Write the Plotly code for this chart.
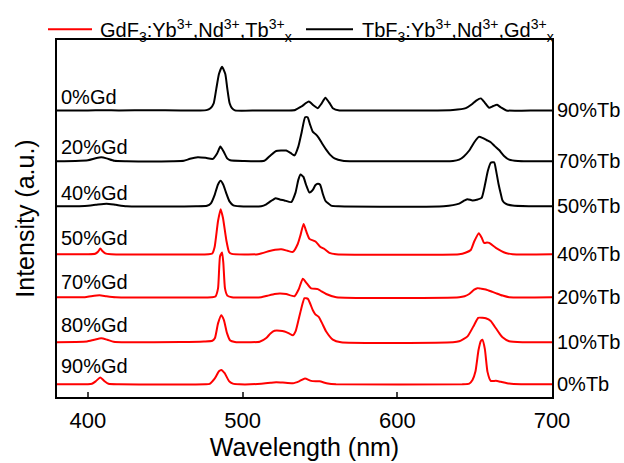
import plotly.graph_objects as go

# ---------------- data ----------------
# wavelength (nm) / relative intensity points for each spectrum, plus stacking offset
wl_gd0 = [380, 400, 410, 420, 440, 460, 472, 476.6, 479.2, 481.3, 483.0, 484.7, 486.7, 488.8, 490.1, 491.6, 493.1, 495,
          510, 530, 534, 538, 542.8, 546, 548.6, 551, 553.5, 556, 558.3, 562.6, 580, 620, 636, 644.3, 648, 651, 654,
          656.5, 659.3, 662, 664.5, 667, 670.5, 690, 700]
int_gd0 = [0, 0, 0.3, 0, 0.3, 0, 0, 0.3, 2.3, 7.3, 22.3, 37.3, 44.7, 37.3, 22.3, 7.3, 2.3, 0,
           0, 0, 0.5, 4, 9, 5, 2.3, 7, 13, 8, 2.3, 0, 0, 0, 0.5, 2.3, 6, 10, 12.3,
           8, 2.8, 4.5, 5.7, 3, 0, 0, 0]

wl_gd20 = [380, 392, 400, 405, 408.6, 412, 417, 425, 440, 455, 462, 466, 471, 476, 480.8, 483.5, 485.6, 487.7, 490,
           492, 500, 514, 518, 521.7, 525, 528.2, 531, 533.5, 536, 538.2, 540.4, 542, 543.5, 545.4, 547, 549.2, 551.5,
           554, 557, 559.4, 564.7, 572, 600, 636, 640, 643, 646.5, 650, 652.7, 655, 658, 660.4, 663, 665.8, 669,
           672.3, 678, 700]
int_gd20 = [0, 0.3, 1, 3, 4, 3, 0.5, 0, -0.3, 0, 0.5, 2.5, 4, 3.5, 2.5, 8, 15, 10, 3,
            1, 0.3, 0.5, 6, 10.5, 11, 11, 8.5, 6, 15, 30, 45, 45, 38, 30, 28, 24, 18,
            12, 6, 3, 0.5, 0, 0, 0.3, 1.7, 5, 11, 20, 25, 24, 21.5, 19.5, 15.5, 11.5, 5.5,
            1.7, 0.3, 0]

wl_gd40 = [380, 398, 405, 412, 418, 425, 470, 477, 479.5, 482, 484, 485.8, 487.5, 489.5, 491.5, 494, 498, 512,
           515.3, 518, 521.3, 524, 527, 531.4, 534.2, 536, 537.4, 539.3, 541, 543.2, 545.5, 547, 548.6, 550.1, 552,
           553.5, 557.2, 562, 630, 640, 643.5, 645.4, 648.6, 652, 654.5, 656.8, 658.5, 660.4, 662.6, 663.8, 665.4,
           667, 668, 670, 674.5, 685, 700]
int_gd40 = [0, 0.3, 1.5, 2.7, 1.5, 0, 0, 0.5, 3, 12, 22, 26, 22, 13, 5, 1, 0, 0,
            2, 5, 8.3, 7, 6, 4.3, 14, 27, 32.5, 30, 22, 14, 17, 21.5, 23, 22, 12,
            5.7, 0.7, 0, 0, 2.7, 6, 7.3, 6, 7, 8.5, 23, 36, 44.5, 45, 37, 23,
            12, 6, 2.7, 0.7, 0, 0]

wl_gd50 = [380, 400, 404.7, 406.5, 408, 409.5, 411.2, 415, 478, 480.4, 481.9, 484.1, 485.8, 487.3, 489.5, 491.2, 493,
           510, 517.4, 521, 525, 529, 532.5, 535.7, 537.5, 539.4, 541, 543.2, 547.1, 550.3, 552.9, 556.1, 560.4,
           640, 644, 647.5, 649.7, 652.7, 654.5, 656.1, 658, 659.4, 663.7, 670.1, 674.5, 700]
int_gd50 = [0, 0, 0.5, 2.5, 5.7, 3, 0.8, 0, 0, 0.8, 7.3, 34, 46, 37, 14, 2.3, 0.3,
            0, 3.3, 4.5, 5, 3.5, 2.3, 10.7, 20, 31, 24, 15.7, 13, 7.3, 5.3, 1.3, 0,
            0, 1.5, 4.3, 13, 21.5, 17, 11.5, 12, 11.5, 6.5, 1.3, 0, 0]

wl_gd70 = [380, 398, 402, 407.5, 412, 418, 480, 482.4, 484.1, 485.4, 486.7, 487.5, 488.6, 490.1, 493, 512, 516,
           520.6, 524, 528.2, 533.5, 536.3, 538.9, 541.1, 544.3, 548.6, 551, 554, 560.5, 640, 643.5, 646.5, 649.7,
           651.8, 654, 657.2, 661.5, 664, 668, 672.3, 700]
int_gd70 = [0, 0, 1, 2, 1, 0, 0, 0.7, 9, 42, 45.7, 35.7, 9, 1.7, 0, 0, 1.5,
            3.3, 3.8, 3.3, 1, 8.3, 19, 15, 9, 8.3, 6, 3.3, 0, 0, 1, 3.3, 7.7,
            9.3, 8.8, 8, 5.5, 4, 1.7, 0, 0]

wl_gd80 = [380, 392, 399.4, 404, 408.6, 412.5, 416.6, 425, 460, 475, 480.4, 482.1, 484.1, 486.2, 487.9, 489.9, 492,
           495, 505, 511, 515.3, 518, 520.6, 524, 527.1, 530, 532.5, 534.2, 536, 537.9, 540, 542.2, 545.4, 547,
           549.2, 551.5, 554, 558.3, 563.6, 636, 640, 645.4, 649.7, 652.3, 655, 657.2, 660.4, 663.7, 666, 668,
           672.3, 681, 700]
int_gd80 = [0, 0.3, 0.8, 2.5, 4, 2.5, 0.5, 0, 0.2, 0.8, 1.5, 4.3, 19.3, 27.7, 22.7, 9.3, 1.7,
            0.3, 0, 0.5, 4.3, 9, 11.7, 11.8, 11, 9, 7, 11, 22, 34.3, 45, 44.3, 32.7, 28.5,
            26, 19, 11, 2.7, 0, 0, 1, 6, 17.7, 25, 25, 24.5, 21.7, 14.3, 9, 5,
            1, 0, 0]

wl_gd90 = [380, 400, 402.6, 405, 408, 410.5, 413.3, 420, 476, 478.7, 481.9, 484.7, 486.2, 488.4, 491.2, 493.7, 498,
           512, 518, 521.7, 526, 532.5, 536.8, 540.3, 544.3, 549.7, 555.1, 560.4, 642, 646.5, 648.6, 650.5, 652.5,
           654, 655, 656.6, 658.3, 660.4, 663.7, 667, 672.3, 680, 700]
int_gd90 = [0, 0, 0.5, 3, 7, 3.5, 0.5, 0, 0, 0.5, 5.7, 13.3, 14.7, 11.3, 3.3, 0.7, 0,
            0.5, 1.5, 2, 1.7, 1, 3.3, 6, 3.5, 3, 0.7, 0, 0, 0.7, 4.3, 13, 35,
            44.3, 45.5, 36, 12.7, 3.5, 3.5, 2.5, 0.7, 0, 0]

gd_labels = ["0%Gd", "20%Gd", "40%Gd", "50%Gd", "70%Gd", "80%Gd", "90%Gd"]
tb_labels = ["90%Tb", "70%Tb", "50%Tb", "40%Tb", "20%Tb", "10%Tb", "0%Tb"]
offsets = [293, 241, 195, 146, 102, 56, 13]
series_host = ["TbF", "TbF", "TbF", "GdF", "GdF", "GdF", "GdF"]

x_ticks = [400, 500, 600, 700]

wls = [wl_gd0, wl_gd20, wl_gd40, wl_gd50, wl_gd70, wl_gd80, wl_gd90]
ints = [int_gd0, int_gd20, int_gd40, int_gd50, int_gd70, int_gd80, int_gd90]

legend_names = {
    "GdF": "GdF<sub>3</sub>:Yb<sup>3+</sup>,Nd<sup>3+</sup>,Tb<sup>3+</sup><sub>x</sub>",
    "TbF": "TbF<sub>3</sub>:Yb<sup>3+</sup>,Nd<sup>3+</sup>,Gd<sup>3+</sup><sub>x</sub>",
}
legend_order = ["GdF", "TbF"]
colors = {"GdF": "#ff0000", "TbF": "#000000"}

FONT = "Arial, 'Liberation Sans', sans-serif"

# layout geometry (pixels)
W, H = 624, 463
ML, MR, MT, MB = 57, 72, 40, 59
PW, PH = W - ML - MR, H - MT - MB


def px_x(px):
    return (px - ML) / PW


def px_y(py):
    return (H - MB - py) / PH


fig = go.Figure()
for i in range(7):
    host = series_host[i]
    fig.add_trace(go.Scatter(
        x=wls[i], y=[v + offsets[i] for v in ints[i]],
        mode="lines", line=dict(color=colors[host], width=2, shape="spline", smoothing=0.5),
        name=legend_names[host], legendgroup=host, showlegend=False,
        hoverinfo="skip",
    ))

label_dy = [14, 15, 13.5, 16.5, 15.5, 17.5, 18.5]
for i in range(7):
    fig.add_annotation(x=381.5, y=offsets[i] + label_dy[i], xref="x", yref="y", text=gd_labels[i],
                       showarrow=False, xanchor="left", yanchor="middle",
                       font=dict(family=FONT, size=20, color="black"))
    fig.add_annotation(x=1, y=offsets[i], xref="paper", yref="y", text=tb_labels[i],
                       showarrow=False, xanchor="left", yanchor="middle", xshift=3,
                       font=dict(family=FONT, size=20, color="black"))

# legend drawn at the top (line sample + label for each series)
legend_px = [(48, 92, 98), (306, 353, 360)]
for host, (lx0, lx1, tx) in zip(legend_order, legend_px):
    fig.add_shape(type="line", xref="paper", yref="paper",
                  x0=px_x(lx0), x1=px_x(lx1), y0=px_y(29), y1=px_y(29),
                  line=dict(color=colors[host], width=2))
    fig.add_annotation(x=px_x(tx), y=px_y(30), xref="paper", yref="paper", text=legend_names[host],
                       showarrow=False, xanchor="left", yanchor="middle",
                       font=dict(family=FONT, size=20, color="black"))

fig.update_layout(
    width=W, height=H,
    margin=dict(l=ML, r=MR, t=MT, b=MB),
    paper_bgcolor="white", plot_bgcolor="white",
    font=dict(family=FONT, size=20, color="black"),
    showlegend=False,
    xaxis=dict(range=[380, 700], tickvals=x_ticks, ticks="inside", ticklen=5, tickwidth=1.5,
               showline=True, linewidth=1.5, linecolor="black", mirror=True, showgrid=False,
               zeroline=False, tickfont=dict(size=22), ticklabelstandoff=3,
               title=dict(text="Wavelength (nm)", font=dict(size=25), standoff=0)),
    yaxis=dict(range=[0, 365], showticklabels=False, ticks="", showline=True, linewidth=1.5,
               linecolor="black", mirror=True, showgrid=False, zeroline=False,
               title=dict(text="Intensity (a.u.)", font=dict(size=25), standoff=14)),
)

fig.write_html("out.html")
